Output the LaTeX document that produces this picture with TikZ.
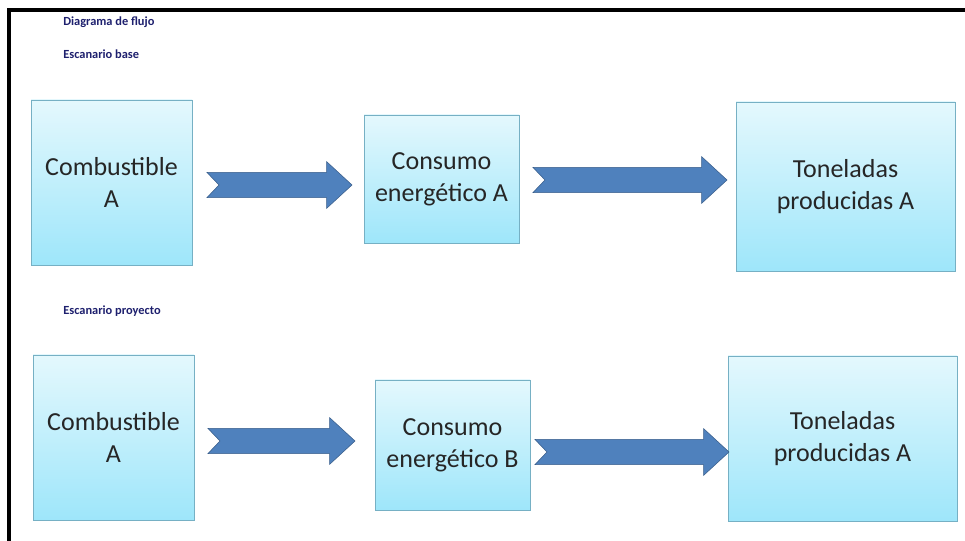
\documentclass[tikz,border=0pt]{standalone}
\usepackage{fontspec}
\setmainfont{Carlito}
\usetikzlibrary{calc}
\definecolor{cajaborde}{RGB}{118,176,196}
\definecolor{cajaarriba}{RGB}{228,248,253}
\definecolor{cajaabajo}{RGB}{158,230,250}
\definecolor{flechaazul}{RGB}{79,129,189}
\definecolor{flechaborde}{RGB}{56,93,138}
\definecolor{azultitulo}{RGB}{30,32,110}
\begin{document}
\begin{tikzpicture}[x=0.75pt,y=-0.75pt,
    caja/.style={draw=cajaborde,top color=cajaarriba,bottom color=cajaabajo,inner sep=0pt,outer sep=0pt,
      align=center,font=\fontsize{19.5}{23.8}\selectfont,text=black!85},
    titulo/.style={anchor=base west,inner sep=0pt,font=\fontsize{9.3}{11}\selectfont\bfseries,text=azultitulo},
    flecha/.style={fill=flechaazul,draw=flechaborde,line join=miter,
      to path={let \p1=(\tikztostart),\p2=(\tikztotarget) in
        (\x1,\y1+9.4pt) -- (\x2-19pt,\y1+9.4pt) -- (\x2-19pt,\y1+17.5pt) -- (\x2,\y1)
        -- (\x2-19pt,\y1-17.5pt) -- (\x2-19pt,\y1-9.4pt) -- (\x1,\y1-9.4pt) -- (\x1+9pt,\y1) -- cycle}}]
    \useasboundingbox[fill=white] (0,0) rectangle (965,541);
    \draw[line width=3pt] (9,541) -- (9,10) -- (965,10);
    \node[titulo] (diagrama) at (63,26) {Diagrama de flujo};
    \node[titulo] (base) at (63,59) {Escanario base};
    \node[titulo] (proyecto) at (63,315) {Escanario proyecto};
    \node[caja,minimum width=120.75pt,minimum height=123.75pt] (combA) at (111.5,182.5) {Combustible\\A};
    \node[caja,minimum width=116.25pt,minimum height=96pt] (consA) at (441.5,179) {Consumo\\energético A};
    \node[caja,minimum width=164.25pt,minimum height=126.75pt] (tonA) at (845.5,186.5) {Toneladas\\producidas A};
    \node[caja,minimum width=120.75pt,minimum height=123.75pt] (combB) at (113.5,437.5) {Combustible\\A};
    \node[caja,minimum width=116.25pt,minimum height=97.5pt] (consB) at (452.5,445) {Consumo\\energético B};
    \node[caja,minimum width=171.75pt,minimum height=123.75pt] (tonB) at (842.5,438.5) {Toneladas\\producidas A};
    \draw[flecha] ([shift={(15,2.5)}]combA.east) to ([shift={(-12,0)}]consA.west);
    \draw[flecha] ([shift={(14,1)}]consA.east) to ([shift={(-9,0)}]tonA.west);
    \draw[flecha] ([shift={(14,3.5)}]combB.east) to ([shift={(-20,0)}]consB.west);
    \draw[flecha] ([shift={(5,7)}]consB.east) to ([shift={(1,0)}]tonB.west);
  \end{tikzpicture}
\end{document}
